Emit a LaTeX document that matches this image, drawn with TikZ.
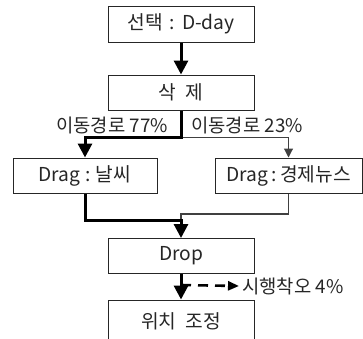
\documentclass[tikz,border=0pt]{standalone}
\usepackage{fontspec}
\setmainfont{Noto Sans CJK KR}
\usetikzlibrary{arrows.meta}
\begin{document}
\begin{tikzpicture}[x=1pt,y=-1pt,
  box/.style={draw=black!85,line width=1pt,minimum height=35pt,inner sep=0pt,font=\fontsize{19.2}{19.2}\selectfont,text=black!85},
  thick line/.style={line width=3pt,-{Triangle[width=14pt,length=14pt]}},
  thin line/.style={line width=1.1pt,draw=black!75,-{Triangle[width=9pt,length=9pt]}},
  lbl/.style={font=\fontsize{18.8}{18.8}\selectfont,inner sep=0pt,text=black!85}]
\useasboundingbox (0,0) rectangle (363,338);
\begin{scope}
\clip (0,0) rectangle (363,338);
\node[box,minimum width=146pt,minimum height=36pt] (b1) at (181,24) {선택\hspace{7pt}:\hspace{7pt}D-day};
\node[box,minimum width=146pt] (b2) at (181,92.5) {삭\hspace{9pt}제};
\node[box,minimum width=144pt] (b3) at (85,175.5) {Drag\hspace{5pt}:\hspace{5pt}날씨};
\node[box,minimum width=147pt] (b4) at (288.5,175.5) {Drag\hspace{3.5pt}:\hspace{3.5pt}경제뉴스};
\node[box,minimum width=146pt] (drop) at (181,256) {Drop};
\node[box,minimum width=146pt,minimum height=42pt] (b5) at (181,321) {위치\hspace{9pt}조정};
\end{scope}
\coordinate (s1) at (181,137.5);
\coordinate (m1) at (181,220);
\coordinate (m2) at (181,214);
\coordinate (d0) at (181,285);
\node[lbl,anchor=east] (l77) at (168,125) {이동경로 77\%};
\node[lbl,anchor=west] (l23) at (191,125) {이동경로 23\%};
\node[lbl,anchor=west] (l4) at (242,286) {시행착오 4\%};
\draw[thick line] (b1.south) -- (b2.north);
\draw[thin line] (s1) -| (b4.north);
\draw[thin line,-] (b4.south) |- (m2) -- (m1);
\draw[thick line] (b2.south) -- (s1) -| (b3.north);
\draw[thick line] (b3.south) |- (m1) -- (drop.north);
\draw[thick line] (drop.south) -- (b5.north);
\draw[line width=2.6pt,dash pattern=on 10pt off 7pt,-{Triangle[width=9pt,length=11pt]}] (d0) -- ([xshift=-3pt]l4.west);
\end{tikzpicture}
\end{document}
